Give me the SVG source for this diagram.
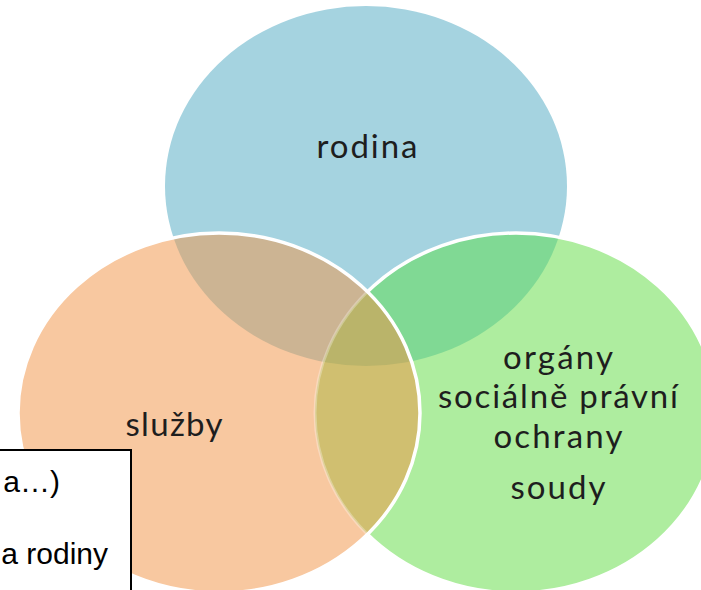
<svg xmlns="http://www.w3.org/2000/svg" width="701" height="590" viewBox="0 0 701 590">
<style>
.lbl{font-family:Lato,"Open Sans","Noto Sans",sans-serif;font-size:33px;fill:#1e1e1e;text-anchor:middle}
.box{font-family:"Liberation Sans",Arial,sans-serif;font-size:30px;fill:#000;text-anchor:end}
.edge{fill:none;stroke:#fff;stroke-width:3.5}
</style>
<defs>
<clipPath id="cB"><ellipse cx="366" cy="186" rx="201" ry="180"/></clipPath>
<clipPath id="cG"><ellipse cx="516" cy="413" rx="201" ry="180"/></clipPath>
<clipPath id="cO"><ellipse cx="219" cy="413" rx="201" ry="180"/></clipPath>
</defs>
<rect width="701" height="590" fill="#fff"/>
<g id="rodina">
<ellipse cx="366" cy="186" rx="201" ry="180" fill="#A5D3E0"/>
<text class="lbl" x="367" y="158" textLength="101" lengthAdjust="spacing">rodina</text>
</g>
<g id="organy">
<ellipse cx="516" cy="413" rx="201" ry="180" fill="#AEED9F"/>
<g clip-path="url(#cB)"><ellipse cx="516" cy="413" rx="201" ry="180" fill="#80D994"/></g>
<ellipse class="edge" cx="516" cy="413" rx="201" ry="180"/>
</g>
<g id="sluzby">
<ellipse cx="219" cy="413" rx="201" ry="180" fill="#F8C8A0"/>
<g clip-path="url(#cB)"><ellipse cx="219" cy="413" rx="201" ry="180" fill="#CCB493"/></g>
<g clip-path="url(#cG)"><ellipse cx="219" cy="413" rx="201" ry="180" fill="#D0BF70"/>
<g clip-path="url(#cB)"><ellipse cx="219" cy="413" rx="201" ry="180" fill="#BAB46A"/></g></g>
<g clip-path="url(#cO)"><ellipse cx="516" cy="413" rx="201" ry="180" fill="none" stroke="#fff" stroke-width="3" opacity="0.3"/></g>
<ellipse class="edge" cx="219" cy="413" rx="201" ry="180"/>
<text class="lbl" x="174" y="436" textLength="97" lengthAdjust="spacing">služby</text>
</g>
<g id="organy-text">
<text class="lbl" x="558" y="369" textLength="110" lengthAdjust="spacing">orgány</text>
<text class="lbl" x="558" y="408" textLength="240" lengthAdjust="spacing">sociálně právní</text>
<text class="lbl" x="558" y="448" textLength="129" lengthAdjust="spacing">ochrany</text>
<text class="lbl" x="558" y="499" textLength="95" lengthAdjust="spacing">soudy</text>
</g>
<g id="textbox">
<rect x="-5" y="450" width="136" height="150" fill="#fff" stroke="#000" stroke-width="2"/>
<text class="box" x="60" y="492">a…)</text>
<text class="box" x="108" y="564">a rodiny</text>
</g>
</svg>
